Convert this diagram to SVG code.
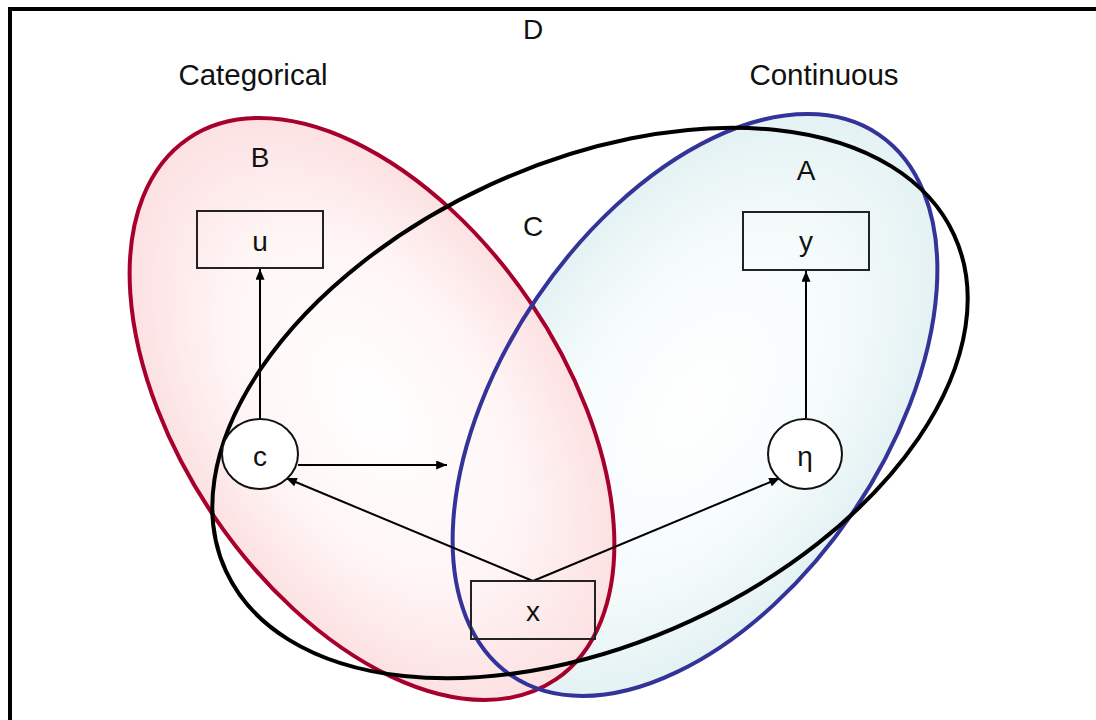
<svg xmlns="http://www.w3.org/2000/svg" width="1096" height="720" viewBox="0 0 1096 720">
<style>
text{font-family:"Liberation Sans",Arial,sans-serif;font-size:28px;fill:#111;text-anchor:middle}
.title{font-size:29.5px}
.box{fill:none;stroke:#222;stroke-width:2}
.circ{fill:#fff;stroke:#111;stroke-width:2}
.edge{stroke:#000;stroke-width:2;fill:none}
</style>
<defs>
<radialGradient id="gRed" cx="0.5" cy="0.5" r="0.5">
<stop offset="0" stop-color="#ffffff"/>
<stop offset="0.6" stop-color="#fff5f5"/>
<stop offset="1" stop-color="#fce1e2"/>
</radialGradient>
<radialGradient id="gBlue" cx="0.5" cy="0.5" r="0.5">
<stop offset="0" stop-color="#ffffff"/>
<stop offset="0.6" stop-color="#f5fbfb"/>
<stop offset="1" stop-color="#e4f2f3"/>
</radialGradient>
<marker id="arr" viewBox="0 0 12 10" refX="12" refY="5" markerWidth="12" markerHeight="9" markerUnits="userSpaceOnUse" orient="auto">
<path d="M0,0 L12,5 L0,10 Z" fill="#000"/>
</marker>
</defs>
<rect x="0" y="0" width="1096" height="720" fill="#fff"/>
<rect x="10" y="9" width="1100" height="730" fill="none" stroke="#000" stroke-width="4"/>
<g id="regions">
<ellipse id="regionA-fill" cx="695" cy="405" rx="327" ry="191" transform="rotate(-55.8 695 405)" fill="url(#gBlue)"/>
<ellipse id="regionB-fill" cx="372" cy="409" rx="327" ry="191" transform="rotate(55.8 372 409)" fill="url(#gRed)"/>
<ellipse id="regionB" cx="372" cy="409" rx="327" ry="191" transform="rotate(55.8 372 409)" fill="none" stroke="#a8002c" stroke-width="4"/>
<ellipse id="regionA" cx="695" cy="405" rx="327" ry="191" transform="rotate(-55.8 695 405)" fill="none" stroke="#333399" stroke-width="4"/>
<ellipse id="regionC" cx="590" cy="403" rx="401" ry="240" transform="rotate(-24.8 590 403)" fill="none" stroke="#000" stroke-width="4"/>
</g>
<g id="labels">
<text x="533" y="39">D</text>
<text class="title" x="253" y="85">Categorical</text>
<text class="title" x="824" y="85">Continuous</text>
<text x="260" y="167">B</text>
<text x="806" y="180">A</text>
<text x="533" y="236">C</text>
</g>
<g id="connectors">
<line class="edge" x1="260" y1="419" x2="260" y2="269" marker-end="url(#arr)"/>
<line class="edge" x1="806" y1="418" x2="806" y2="271" marker-end="url(#arr)"/>
<line class="edge" x1="298" y1="465" x2="447" y2="465" marker-end="url(#arr)"/>
<line class="edge" x1="533" y1="581" x2="286" y2="478" marker-end="url(#arr)"/>
<line class="edge" x1="533" y1="581" x2="780" y2="478" marker-end="url(#arr)"/>
</g>
<g id="node-u">
<rect class="box" x="197" y="211" width="126" height="57"/>
<text x="260" y="251">u</text>
</g>
<g id="node-y">
<rect class="box" x="743" y="212" width="126" height="58"/>
<text x="806" y="251">y</text>
</g>
<g id="node-c">
<ellipse class="circ" cx="260" cy="454" rx="38" ry="35"/>
<text x="260" y="466">c</text>
</g>
<g id="node-eta">
<ellipse class="circ" cx="805" cy="454" rx="37" ry="35"/>
<text x="805" y="466">η</text>
</g>
<g id="node-x">
<rect class="box" x="471" y="581" width="124" height="58"/>
<text x="533" y="621">x</text>
</g>
</svg>
